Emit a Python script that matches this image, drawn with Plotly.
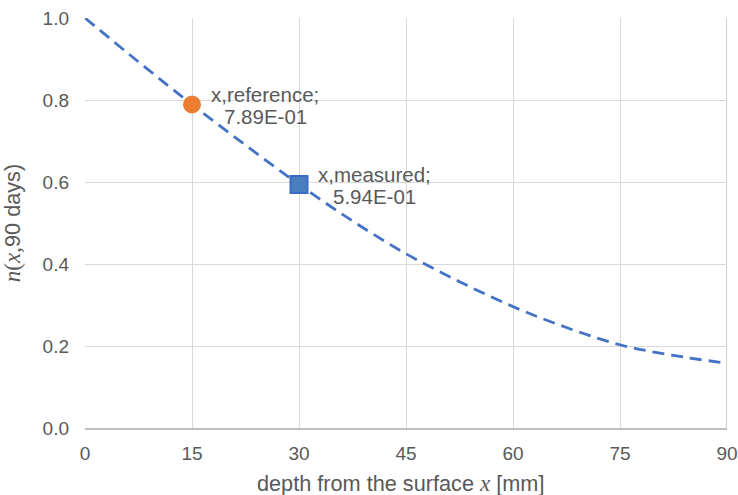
import plotly.graph_objects as go

# curve data
depth = [0, 7.5, 15, 22.5, 30, 37.5, 45, 52.5, 60, 67.5, 75, 82.5, 90]
n_vals = [1.0, 0.893, 0.789, 0.69, 0.594, 0.505, 0.425, 0.357, 0.296, 0.245, 0.203, 0.177, 0.158]

ref_x = [15]
ref_y = [0.789]
ref_name = "x,reference;"
meas_x = [30]
meas_y = [0.594]
meas_name = "x,measured;"

x_ticks = [0, 15, 30, 45, 60, 75, 90]
y_ticks = [0.0, 0.2, 0.4, 0.6, 0.8, 1.0]
y_tick_text = ["0.0", "0.2", "0.4", "0.6", "0.8", "1.0"]

FONT = "Liberation Sans, Arial, sans-serif"
GRAY = "#595959"
TICK_FS = 19
ANN_FS = 20.5
TITLE_FS = 21.7

fig = go.Figure()
fig.add_trace(go.Scatter(x=depth, y=n_vals, mode="lines",
                         line=dict(color="#4472C4", width=2.8, dash="12px,7px", shape="spline"),
                         showlegend=False, hoverinfo="skip", cliponaxis=False))
fig.add_trace(go.Scatter(x=ref_x, y=ref_y, mode="markers",
                         marker=dict(symbol="circle", size=18, color="#ED7D31",
                                     line=dict(color="#ED7D31", width=0)),
                         showlegend=False))
fig.add_trace(go.Scatter(x=meas_x, y=meas_y, mode="markers",
                         marker=dict(symbol="square", size=17, color="#4A7EC0",
                                     line=dict(color="#3A6BC8", width=2)),
                         showlegend=False))

for px, py, name, sh2 in [(ref_x[0], ref_y[0], ref_name, 30), (meas_x[0], meas_y[0], meas_name, 32)]:
    fig.add_annotation(x=px, y=py, xref="x", yref="y", text=name, showarrow=False,
                       xanchor="left", yanchor="middle", align="left", xshift=17, yshift=10,
                       font=dict(family=FONT, size=ANN_FS, color=GRAY))
    fig.add_annotation(x=px, y=py, xref="x", yref="y", text=f"{py:.2E}", showarrow=False,
                       xanchor="left", yanchor="middle", align="left", xshift=sh2, yshift=-12,
                       font=dict(family=FONT, size=ANN_FS, color=GRAY))

serif = "font-family:'Liberation Serif','DejaVu Serif',serif;font-size:23px"

# x-axis title as annotation (slightly left of plot centre, as in the reference)
fig.add_annotation(x=0.491, y=0, xref="paper", yref="paper",
                   text=f"depth from the surface <span style=\"{serif}\"><i>x</i></span> [mm]",
                   showarrow=False, xanchor="center", yanchor="middle", yshift=-55,
                   font=dict(family=FONT, size=TITLE_FS, color=GRAY))

fig.update_layout(
    width=738, height=495,
    margin=dict(l=85, r=11, t=18, b=67),
    paper_bgcolor="white", plot_bgcolor="white",
    font=dict(family=FONT, size=TICK_FS, color=GRAY),
    xaxis=dict(range=[0, 90], tickvals=x_ticks, showgrid=True, gridcolor="#d9d9d9",
               gridwidth=1.3, zeroline=False, showline=True, linecolor="#bfbfbf", linewidth=1.5,
               mirror=False, ticks="", tickfont=dict(size=TICK_FS, color=GRAY), automargin=False,
               ticklabelstandoff=7),
    yaxis=dict(range=[0, 1.0], tickvals=y_ticks, ticktext=y_tick_text, showgrid=True,
               gridcolor="#d9d9d9", gridwidth=1.3, zeroline=False, showline=False,
               ticks="", ticklabelstandoff=15, tickfont=dict(size=TICK_FS, color=GRAY), automargin=False,
               title=dict(text=f"<span style=\"{serif}\"><i>n</i>(<i>x</i>,</span>90 days)",
                          font=dict(size=TITLE_FS, color=GRAY), standoff=22)),
)
fig.add_shape(type="line", xref="x", yref="paper", x0=90, x1=90, y0=0, y1=1,
              line=dict(color="#bfbfbf", width=1.5), layer="below")

fig.write_html("out.html", config={"displayModeBar": False},
               post_script="document.body.style.margin='0px';document.body.style.overflow='hidden';")
